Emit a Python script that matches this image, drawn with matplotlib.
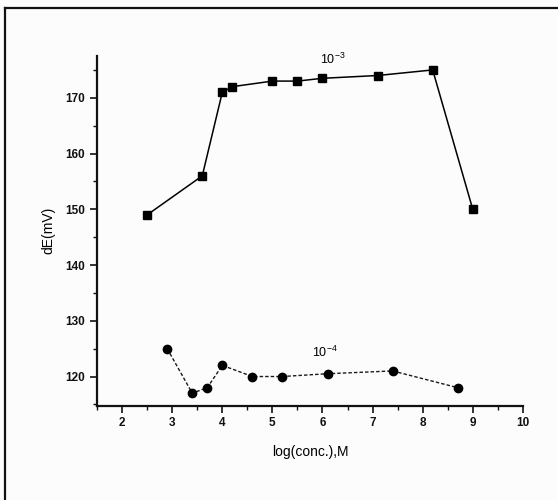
import matplotlib.pyplot as plt
from matplotlib.lines import Line2D
from matplotlib.ticker import MultipleLocator

plt.rcParams["font.family"] = ["Liberation Sans", "DejaVu Sans"]
plt.rcParams["mathtext.fontset"] = "custom"
plt.rcParams["mathtext.rm"] = "Liberation Sans"

# dE response vs log concentration, two electrolyte strengths
x_1e3 = [2.5, 3.6, 4.0, 4.2, 5.0, 5.5, 6.0, 7.1, 8.2, 9.0]
de_1e3 = [149, 156, 171, 172, 173, 173, 173.5, 174, 175, 150]

x_1e4 = [2.9, 3.4, 3.7, 4.0, 4.6, 5.2, 6.1, 7.4, 8.7]
de_1e4 = [125, 117, 118, 122, 120, 120, 120.5, 121, 118]

xticks = [2, 3, 4, 5, 6, 7, 8, 9, 10]
yticks = [120, 130, 140, 150, 160, 170]

fig = plt.figure(figsize=(5.58, 5.0), dpi=100)
fig.patch.set_facecolor("#fdfcfd")
ax = fig.add_axes([0.174, 0.189, 0.763, 0.699])
ax.set_facecolor("none")

ax.plot(x_1e3, de_1e3, color="black", lw=1.1, marker="s", ms=5.5)
ax.plot(x_1e4, de_1e4, color="#1a1a1a", lw=1.0, ls=(0, (2.5, 1.5)),
        marker="o", ms=6.0, markerfacecolor="black", markeredgecolor="black")

ax.text(6.2, 176.9, r"10$^{-3}$", fontsize=9, ha="center", va="center")
ax.text(6.05, 124.4, r"10$^{-4}$", fontsize=9, ha="center", va="center")

ax.set_xlim(1.5, 10)
ax.set_ylim(114.8, 177.5)
ax.set_xticks(xticks)
ax.set_yticks(yticks)
ax.xaxis.set_minor_locator(MultipleLocator(0.5))
ax.yaxis.set_minor_locator(MultipleLocator(5))

for side in ["top", "right"]:
    ax.spines[side].set_visible(False)
for side in ["left", "bottom"]:
    ax.spines[side].set_linewidth(1.6)
    ax.spines[side].set_color("#111111")

ax.tick_params(which="major", direction="out", length=5, width=1.2,
               labelsize=8.5, colors="#111111")
ax.tick_params(which="minor", direction="out", length=3, width=1.0,
               colors="#111111")
for lab in ax.get_xticklabels() + ax.get_yticklabels():
    lab.set_fontweight("bold")

ax.set_xlabel("log(conc.),M", fontsize=10, labelpad=11)
ax.set_ylabel("dE(mV)", fontsize=10, labelpad=7)

# page frame from the scanned sheet
fig.add_artist(Line2D([0.009, 1.0], [0.984, 0.984], transform=fig.transFigure,
                      color="#111111", lw=1.6))
fig.add_artist(Line2D([0.009, 0.009], [0.0, 0.984], transform=fig.transFigure,
                      color="#111111", lw=1.6))

fig.savefig("out.png", dpi=100, facecolor=fig.get_facecolor())
